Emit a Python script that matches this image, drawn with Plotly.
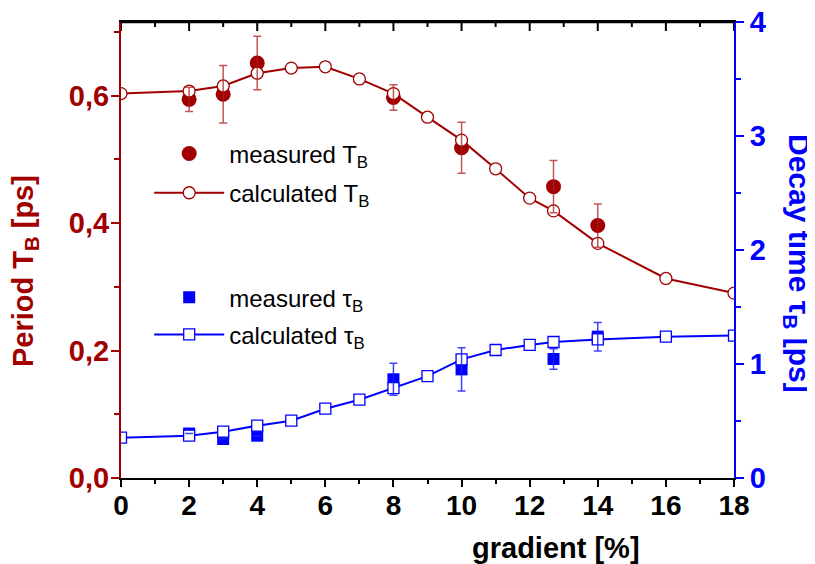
import plotly.graph_objects as go

# ---------------- data ----------------
calc_x = [0, 2, 3, 4, 5, 6, 7, 8, 9, 10, 11, 12, 12.7, 14, 16, 18]
calc_T = [0.603, 0.607, 0.615, 0.635, 0.643, 0.645, 0.626, 0.603, 0.566, 0.530,
          0.485, 0.439, 0.419, 0.368, 0.313, 0.290]
calc_tau = [0.354, 0.371, 0.406, 0.459, 0.503, 0.608, 0.687, 0.789, 0.893, 1.041,
            1.123, 1.167, 1.193, 1.216, 1.240, 1.249]

meas_x = [2, 3, 4, 8, 10, 12.7, 14]
meas_T = [0.594, 0.602, 0.651, 0.597, 0.518, 0.457, 0.396]
meas_T_err = [0.019, 0.045, 0.042, 0.020, 0.040, 0.041, 0.034]
meas_tau = [0.39, 0.342, 0.371, 0.866, 0.953, 1.044, 1.24]
meas_tau_err = [0.0, 0.0, 0.0, 0.14, 0.19, 0.09, 0.125]

x_ticks = list(range(0, 19, 2))
x_minor = list(range(1, 18, 2))
yl_ticks = [0.0, 0.2, 0.4, 0.6]
yl_text = ["0,0", "0,2", "0,4", "0,6"]
yr_ticks = [0, 1, 2, 3, 4]

RED = "#A00000"
BLUE = "#0000FF"
FONT = "Liberation Sans, Arial, sans-serif"
PLOT_H = 456

fig = go.Figure()

# red traces (left axis)
fig.add_trace(go.Scatter(
    x=meas_x, y=meas_T, mode="markers", name="measured T<sub>B</sub>",
    marker=dict(symbol="circle", size=15, color=RED, line=dict(width=0)),
    legend="legend", legendgroup="a", xaxis="x", yaxis="y"))
fig.add_trace(go.Scatter(
    x=calc_x, y=calc_T, mode="lines+markers", name="calculated T<sub>B</sub>",
    line=dict(color=RED, width=2),
    marker=dict(symbol="circle", size=12, color="white", line=dict(color=RED, width=1.3)),
    legend="legend", legendgroup="b", xaxis="x", yaxis="y"))
fig.add_trace(go.Scatter(
    x=meas_x, y=meas_T, mode="markers", showlegend=False, hoverinfo="skip",
    marker=dict(size=1, opacity=0),
    error_y=dict(type="data", array=meas_T_err, visible=True,
                 color="rgba(175,30,30,0.75)", thickness=1.5, width=4),
    xaxis="x", yaxis="y"))

# blue traces (right axis)
fig.add_trace(go.Scatter(
    x=meas_x, y=meas_tau, mode="markers", name="measured τ<sub>B</sub>",
    marker=dict(symbol="square", size=12, color=BLUE, line=dict(width=0)),
    legend="legend2", legendgroup="c", xaxis="x", yaxis="y2"))
fig.add_trace(go.Scatter(
    x=calc_x, y=calc_tau, mode="lines+markers", name="calculated τ<sub>B</sub>",
    line=dict(color=BLUE, width=2),
    marker=dict(symbol="square", size=11, color="white", line=dict(color=BLUE, width=1.3)),
    legend="legend2", legendgroup="d", xaxis="x", yaxis="y2"))
fig.add_trace(go.Scatter(
    x=meas_x, y=meas_tau, mode="markers", showlegend=False, hoverinfo="skip",
    marker=dict(size=1, opacity=0),
    error_y=dict(type="data", array=meas_tau_err, visible=True,
                 color="rgba(30,30,255,0.85)", thickness=1.5, width=4),
    xaxis="x", yaxis="y2"))

# top frame line with inward ticks (decoration)
shapes = [dict(type="line", xref="paper", yref="paper", x0=0, x1=1, y0=1, y1=1,
               line=dict(color="black", width=2.5), layer="above")]
for t in x_ticks:
    shapes.append(dict(type="line", xref="x", yref="paper", x0=t, x1=t,
                       y0=1, y1=1 - 9 / PLOT_H, line=dict(color="black", width=2),
                       layer="above"))
for t in x_minor:
    shapes.append(dict(type="line", xref="x", yref="paper", x0=t, x1=t,
                       y0=1, y1=1 - 5 / PLOT_H, line=dict(color="black", width=2),
                       layer="above"))

fig.update_layout(
    width=807, height=556,
    margin=dict(l=113, r=81, t=14, b=86),
    paper_bgcolor="white", plot_bgcolor="white",
    showlegend=True,
    shapes=shapes,
    xaxis=dict(range=[0, 18], showgrid=False, zeroline=False, automargin=False,
               showline=True, mirror=True, linecolor="black", linewidth=2,
               ticks="outside", tickvals=x_ticks, ticklen=7, tickwidth=2, tickcolor="black",
               minor=dict(dtick=1, ticks="outside", ticklen=4, tickwidth=2, tickcolor="black"),
               tickfont=dict(family=FONT, size=28, color="black", weight="bold"),
               ticklabelstandoff=-6, ticklabeloverflow="allow",
               anchor="y"),
    yaxis=dict(range=[0, 0.7153], showgrid=False, zeroline=False, automargin=False,
               showline=True, linecolor=RED, linewidth=2,
               ticks="outside", tickvals=yl_ticks, ticktext=yl_text,
               ticklen=8, tickwidth=2, tickcolor=RED,
               minor=dict(tickvals=[0.1, 0.3, 0.5, 0.7], ticks="outside", ticklen=5,
                          tickwidth=2, tickcolor=RED),
               tickfont=dict(family=FONT, size=29, color=RED, weight="bold"),
               ticklabelstandoff=-4, ticklabeloverflow="allow"),
    yaxis2=dict(range=[0, 4], overlaying="y", side="right", anchor="x",
                showgrid=False, zeroline=False, automargin=False,
                showline=True, linecolor=BLUE, linewidth=2,
                ticks="outside", tickvals=yr_ticks, ticklen=8, tickwidth=2, tickcolor=BLUE,
                minor=dict(dtick=0.5, ticks="outside", ticklen=5, tickwidth=2, tickcolor=BLUE),
                tickfont=dict(family=FONT, size=29, color=BLUE, weight="bold"),
                ticklabeloverflow="allow"),
    legend=dict(x=0.046, y=0.76, xanchor="left", yanchor="top",
                bgcolor="rgba(0,0,0,0)", borderwidth=0, itemwidth=70,
                font=dict(family=FONT, size=24, color="black"),
                tracegroupgap=5),
    legend2=dict(x=0.046, y=0.445, xanchor="left", yanchor="top",
                 bgcolor="rgba(0,0,0,0)", borderwidth=0, itemwidth=70,
                 font=dict(family=FONT, size=24, color="black"),
                 tracegroupgap=3),
    annotations=[
        dict(text="Period T<sub>B</sub> [ps]", xref="paper", yref="paper",
             x=-0.1566, y=0.454, xanchor="center", yanchor="middle",
             textangle=-90, showarrow=False,
             font=dict(family=FONT, size=29, color=RED, weight="bold")),
        dict(text="Decay time τ<sub>B</sub> [ps]", xref="paper", yref="paper",
             x=1.1028, y=0.4715, xanchor="center", yanchor="middle",
             textangle=90, showarrow=False,
             font=dict(family=FONT, size=30, color=BLUE, weight="bold")),
        dict(text="gradient [%]", xref="paper", yref="paper",
             x=0.7096, y=-0.1535, xanchor="center", yanchor="middle", showarrow=False,
             font=dict(family=FONT, size=29, color="black", weight="bold")),
    ],
)

fig.write_html("out.html")
